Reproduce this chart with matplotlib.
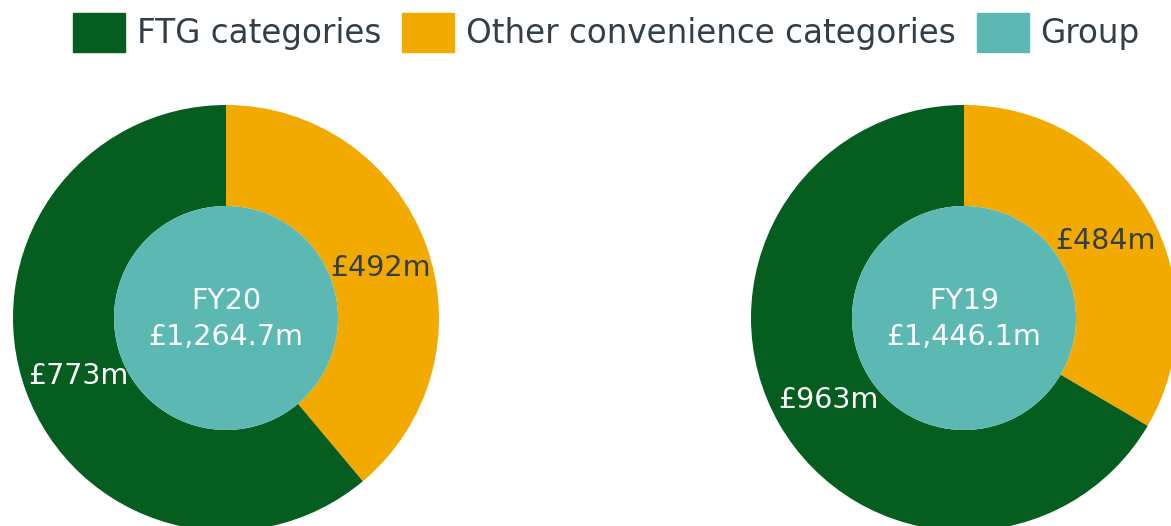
import matplotlib.pyplot as plt
from matplotlib.patches import Patch

# --- Data ---
segments = ['Other convenience categories', 'FTG categories']
fy20_values = [492, 773]
fy19_values = [484, 963]
fy20_labels = ['£492m', '£773m']
fy19_labels = ['£484m', '£963m']
centre_titles = ['FY20\n£1,264.7m', 'FY19\n£1,446.1m']

# --- Style ---
GREEN = '#055e1f'
ORANGE = '#f2a900'
TEAL = '#5cb8b2'
DARK = '#323e48'
W, H = 1171, 526

fig = plt.figure(figsize=(W / 100, H / 100), dpi=100)
ax = fig.add_axes([0, 0, 1, 1])
ax.set_xlim(0, W)
ax.set_ylim(0, H)
ax.set_aspect('equal')
ax.axis('off')

outer_r = 213
inner_r = 112
centres = [(226, H - 318), (964, H - 318)]
label_pos = [[(380, H - 268), (78, H - 376)],
             [(1105, H - 241), (828, H - 400)]]
label_cols = [DARK, 'white']

for centre, vals, labs, title, lpos in zip(centres, [fy20_values, fy19_values],
                                           [fy20_labels, fy19_labels], centre_titles, label_pos):
    ax.pie(vals, colors=[ORANGE, GREEN], startangle=90, counterclock=False,
           radius=outer_r, center=centre, frame=True,
           wedgeprops=dict(width=outer_r - inner_r, linewidth=0))
    ax.pie([1], colors=[TEAL], radius=inner_r, center=centre, frame=True,
           wedgeprops=dict(linewidth=0))
    ax.text(centre[0], centre[1] - 1, title, ha='center', va='center',
            color='white', fontsize=20.5, linespacing=1.35)
    for (x, y), lab, col in zip(lpos, labs, label_cols):
        ax.text(x, y, lab, ha='center', va='center', color=col, fontsize=20.5)

# pie() resets the limits, put them back
ax.set_xlim(0, W)
ax.set_ylim(0, H)
ax.axis('off')

handles = [Patch(color=GREEN, label='FTG categories'),
           Patch(color=ORANGE, label='Other convenience categories'),
           Patch(color=TEAL, label='Group')]
leg = fig.legend(handles=handles, loc='upper right', bbox_to_anchor=(0.99, 1.012),
                 ncol=3, frameon=False, fontsize=23.5, handlelength=1.6,
                 handleheight=1.45, handletextpad=0.35, columnspacing=0.65,
                 borderaxespad=0.2)
for t in leg.get_texts():
    t.set_color(DARK)

fig.savefig('out.png', dpi=100)
